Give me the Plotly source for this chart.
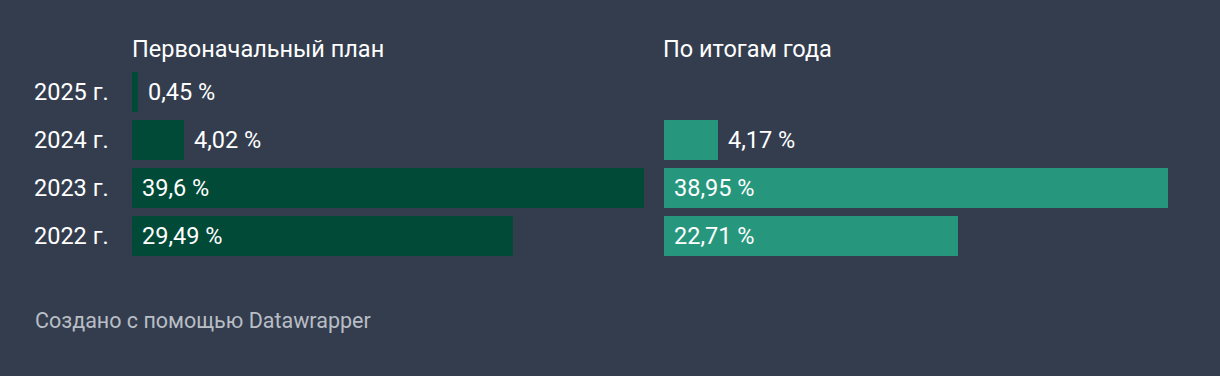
import plotly.graph_objects as go

years = ["2022 г.", "2023 г.", "2024 г.", "2025 г."]
plan = [29.49, 39.6, 4.02, 0.45]
plan_labels = ["29,49 %", "39,6 %", "4,02 %", "0,45 %"]
actual = [22.71, 38.95, 4.17, None]
actual_labels = ["22,71 %", "38,95 %", "4,17 %", ""]
titles = ["Первоначальный план", "По итогам года"]
footer = "Создано с помощью Datawrapper"

BG = "#333d4e"
C_PLAN = "#004a37"
C_ACT = "#26977d"
FONT = "Roboto"
W, H = 1220, 376
FS = 23.5

fig = go.Figure()
fig.add_trace(go.Bar(y=years, x=plan, orientation="h", marker_color=C_PLAN,
                     marker_line_width=0, width=40 / 48, xaxis="x", yaxis="y",
                     hoverinfo="skip"))
fig.add_trace(go.Bar(y=years, x=actual, orientation="h", marker_color=C_ACT,
                     marker_line_width=0, width=40 / 48, xaxis="x2", yaxis="y",
                     hoverinfo="skip"))

ann = []
for xref, vals, labs in (("x", plan, plan_labels), ("x2", actual, actual_labels)):
    for y, v, t in zip(years, vals, labs):
        if v is None:
            continue
        inside = v > 10
        ann.append(dict(x=0 if inside else v, y=y, xref=xref, yref="y", text=t,
                        showarrow=False, xanchor="left", yanchor="middle",
                        xshift=8,
                        font=dict(family=FONT, size=FS, color="#ffffff")))
for y in years:
    ann.append(dict(x=111 / W, y=y, xref="paper", yref="y", text=y, showarrow=False,
                    xanchor="right", yanchor="middle",
                    font=dict(family=FONT, size=FS, color="#ffffff")))
for xp, t in ((130, titles[0]), (661, titles[1])):
    ann.append(dict(x=xp / W, y=1 - 49 / H, xref="paper", yref="paper", text=t,
                    showarrow=False, xanchor="left", yanchor="middle",
                    font=dict(family=FONT, size=FS, color="#ffffff")))
ann.append(dict(x=33 / W, y=1 - 320 / H, xref="paper", yref="paper", text=footer,
                showarrow=False, xanchor="left", yanchor="middle",
                font=dict(family=FONT, size=21.5, color="#b9bdc5")))

fig.update_layout(
    width=W, height=H, margin=dict(l=0, r=0, t=0, b=0),
    paper_bgcolor=BG, plot_bgcolor=BG, showlegend=False, bargap=0,
    xaxis=dict(domain=[132 / W, 644 / W], range=[0, 39.6], visible=False, fixedrange=True),
    xaxis2=dict(domain=[664 / W, 1176 / W], range=[0, 39.6], visible=False, fixedrange=True),
    yaxis=dict(domain=[1 - 260 / H, 1 - 68 / H], range=[-0.5, 3.5], visible=False,
               categoryorder="array", categoryarray=years, fixedrange=True),
    annotations=ann,
)
fig.write_html("out.html", config={"displayModeBar": False})
